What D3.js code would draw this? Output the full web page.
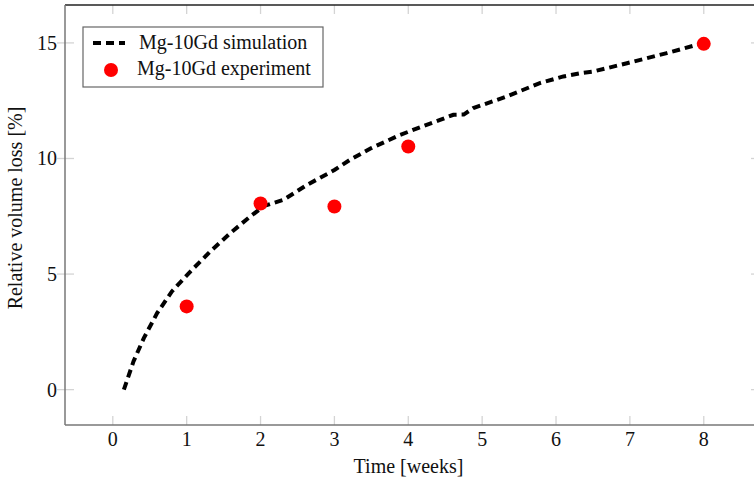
<!DOCTYPE html>
<html>
  <head>
    <meta charset="utf-8">
    <script src="https://d3js.org/d3.v7.min.js"></script>
    <style>
      body { margin: 0px; background: #fff; }
      text { font-family: 'Liberation Serif', 'DejaVu Serif', serif; fill: #111; }
      .tick-label { font-size: 20px; }
      .axis-label { font-size: 20px; }
      .legend-text { font-size: 20px; }
    </style>
  </head>
  <body>
    <svg width="754" height="482"></svg>
    <script>
      const simTime = [0.15, 0.28, 0.42, 0.6, 0.8, 1.05, 1.32, 1.59, 1.86, 2.05, 2.31, 2.63, 3.0, 3.21, 3.5, 3.89, 4.2, 4.43, 4.61, 4.75, 4.88, 5.33, 5.78, 6.1, 6.33, 6.5, 6.96, 7.5, 8.0];
      const simLoss = [0, 1.22, 2.23, 3.31, 4.25, 5.11, 5.98, 6.77, 7.49, 7.95, 8.21, 8.86, 9.5, 9.94, 10.45, 11.02, 11.4, 11.67, 11.89, 11.9, 12.18, 12.68, 13.26, 13.55, 13.69, 13.76, 14.12, 14.56, 15.0];
      const expTime = [1, 2, 3, 4, 8];
      const expLoss = [3.6, 8.05, 7.92, 10.52, 14.96];
      const xTicks = [0, 1, 2, 3, 4, 5, 6, 7, 8];
      const yTicks = [0, 5, 10, 15];
      const seriesNames = ['Mg-10Gd simulation', 'Mg-10Gd experiment'];

      const margin = { left: 65, right: 0, top: 5, bottom: 57 };
      const svg = d3.select('svg');
      const width = +svg.attr('width');
      const height = +svg.attr('height');
      const innerWidth = width - margin.left - margin.right;
      const innerHeight = height - margin.top - margin.bottom;

      const x = d3.scaleLinear().domain([-0.647, 8.68]).range([0, innerWidth]);
      const y = d3.scaleLinear().domain([-1.53, 16.64]).range([innerHeight, 0]);

      const g = svg.append('g')
          .attr('transform', `translate(${margin.left},${margin.top})`);

      // ticks (pgfplots style, inside)
      const tickColor = '#d4d4d4';
      g.selectAll('.xt-b').data(xTicks).enter().append('line')
          .attr('x1', d => x(d)).attr('x2', d => x(d))
          .attr('y1', innerHeight).attr('y2', innerHeight - 9)
          .attr('stroke', tickColor).attr('stroke-width', 1.3);
      g.selectAll('.xt-t').data(xTicks).enter().append('line')
          .attr('x1', d => x(d)).attr('x2', d => x(d))
          .attr('y1', 0).attr('y2', 9)
          .attr('stroke', tickColor).attr('stroke-width', 1.3);
      g.selectAll('.yt-l').data(yTicks).enter().append('line')
          .attr('x1', -8).attr('x2', 9)
          .attr('y1', d => y(d)).attr('y2', d => y(d))
          .attr('stroke', tickColor).attr('stroke-width', 1.3);
      g.selectAll('.yt-r').data(yTicks).enter().append('line')
          .attr('x1', innerWidth - 3).attr('x2', innerWidth)
          .attr('y1', d => y(d)).attr('y2', d => y(d))
          .attr('stroke', tickColor).attr('stroke-width', 1.3);

      // frame
      g.append('line').attr('x1', 0).attr('x2', innerWidth).attr('y1', 0).attr('y2', 0)
          .attr('stroke', '#222').attr('stroke-width', 1.3);
      g.append('line').attr('x1', 0).attr('x2', innerWidth).attr('y1', innerHeight).attr('y2', innerHeight)
          .attr('stroke', '#777').attr('stroke-width', 1.5);
      g.append('line').attr('x1', 0).attr('x2', 0).attr('y1', 0).attr('y2', innerHeight)
          .attr('stroke', '#777').attr('stroke-width', 1.5);

      // tick labels
      g.selectAll('.xl').data(xTicks).enter().append('text')
          .attr('class', 'tick-label')
          .attr('x', d => x(d)).attr('y', innerHeight + 21)
          .attr('text-anchor', 'middle')
          .text(d => d);
      g.selectAll('.yl').data(yTicks).enter().append('text')
          .attr('class', 'tick-label')
          .attr('x', -8).attr('y', d => y(d) + 7)
          .attr('text-anchor', 'end')
          .text(d => d);

      // axis labels
      g.append('text')
          .attr('class', 'axis-label')
          .attr('x', innerWidth / 2 - 1).attr('y', innerHeight + 48)
          .attr('text-anchor', 'middle')
          .text('Time [weeks]');
      g.append('text')
          .attr('class', 'axis-label')
          .attr('transform', `translate(${-43},${innerHeight / 2 - 7}) rotate(-90)`)
          .attr('text-anchor', 'middle')
          .text('Relative volume loss [%]');

      // simulation line
      const sim = simTime.map((t, i) => [t, simLoss[i]]);
      const line = d3.line().x(d => x(d[0])).y(d => y(d[1]));
      g.append('path')
          .datum(sim)
          .attr('d', line)
          .attr('fill', 'none')
          .attr('stroke', '#000')
          .attr('stroke-width', 4)
          .attr('stroke-dasharray', '8,5');

      // experiment points
      g.selectAll('.dot').data(expTime).enter().append('circle')
          .attr('cx', d => x(d))
          .attr('cy', (d, i) => y(expLoss[i]))
          .attr('r', 7)
          .attr('fill', '#ff0000');

      // legend
      const legend = svg.append('g').attr('transform', 'translate(83,27)');
      legend.append('rect')
          .attr('width', 240).attr('height', 60)
          .attr('fill', '#fff')
          .attr('stroke', '#666').attr('stroke-width', 1.2);
      legend.append('line')
          .attr('x1', 10).attr('x2', 42).attr('y1', 16).attr('y2', 16)
          .attr('stroke', '#000').attr('stroke-width', 4)
          .attr('stroke-dasharray', '8,5');
      legend.append('circle')
          .attr('cx', 28).attr('cy', 43).attr('r', 7)
          .attr('fill', '#ff0000');
      legend.append('text')
          .attr('class', 'legend-text')
          .attr('x', 56).attr('y', 22)
          .text(seriesNames[0]);
      legend.append('text')
          .attr('class', 'legend-text')
          .attr('x', 54).attr('y', 48)
          .text(seriesNames[1]);
    </script>
  </body>
</html>
